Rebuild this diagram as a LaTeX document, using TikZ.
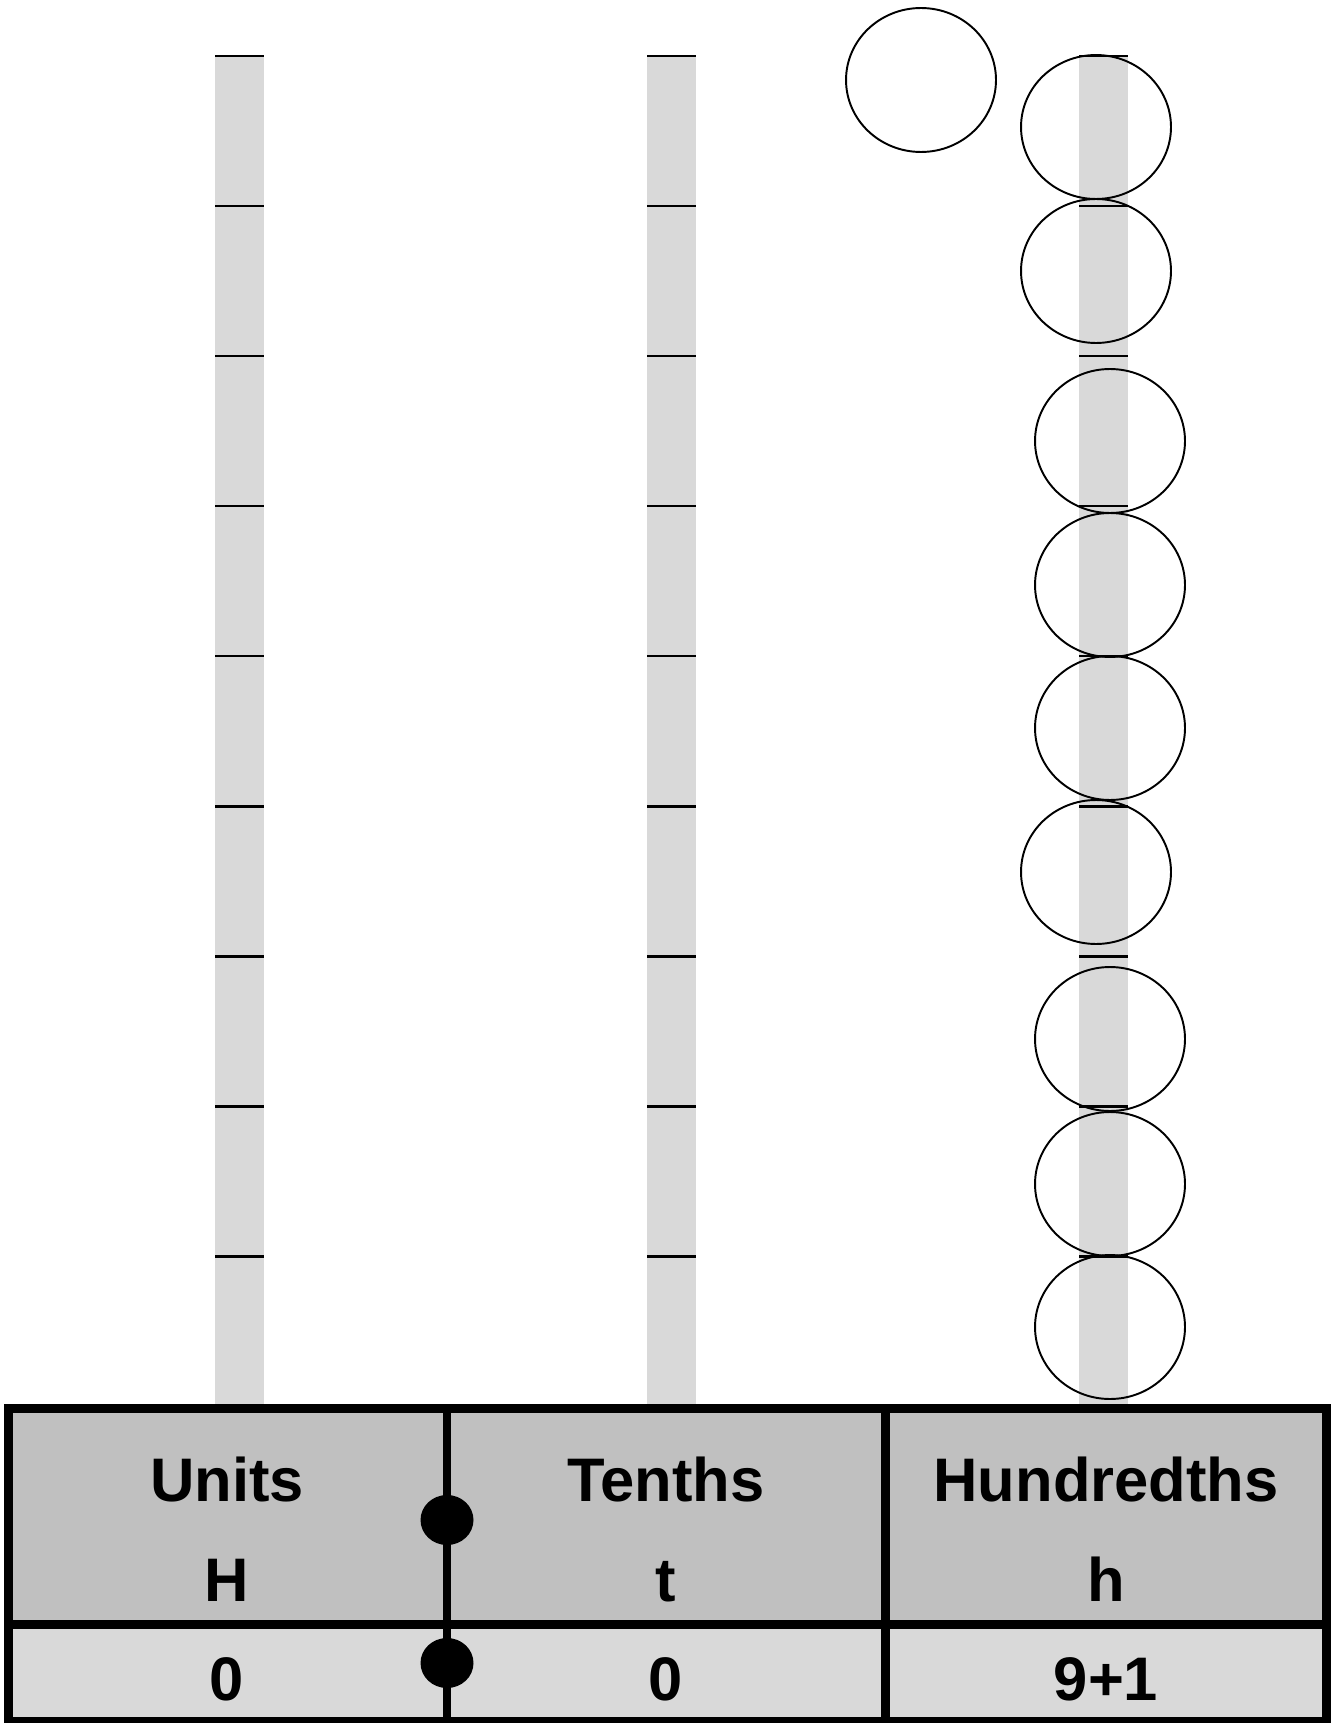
\documentclass[tikz,border=0pt]{standalone}
\usepackage{fontspec}
\setmainfont{Liberation Sans}
\usetikzlibrary{shapes.geometric}
\definecolor{rodgray}{HTML}{D9D9D9}
\definecolor{headgray}{HTML}{C0C0C0}
\tikzset{
  counter/.style={ellipse, draw, line width=1.1pt, minimum width=3cm, minimum height=2.88cm, inner sep=0pt},
  celltext/.style={anchor=base, font=\bfseries\fontsize{35}{42}\selectfont},
  dot/.style={ellipse, fill=black, minimum width=1.06cm, minimum height=1.0cm, inner sep=0pt}
}
\begin{document}
\begin{tikzpicture}[x=0.02cm, y=-0.02cm]
\useasboundingbox (0,0) rectangle (1331,1723);
%rods
\foreach \x in {215,647,1079}
\fill[rodgray] (\x,56) rectangle (\x+49,1404);
%ticks
\foreach \x in {215,647,1079}
\foreach \y in {0,...,8}
\draw[line width=1.7pt] (\x,56+150*\y) -- (\x+49,56+150*\y);
%counters
\node[counter] (spare) at (921,80) {};
\foreach \cx/\cy [count=\i] in {
	1096/127,
	1096/271,
	1110/441,
	1110/585,
	1110/728,
	1096/872,
	1110/1039,
	1110/1184,
	1110/1327
}
\node[counter] (h\i) at (\cx,\cy) {};
%table
\fill[headgray] (8,1408) rectangle (1327,1624);
\fill[rodgray] (8,1624) rectangle (1327,1721);
\draw[line width=0.18cm] (8,1624.5) -- (1327,1624.5);
\draw[line width=0.17cm] (447,1408) -- (447,1721);
\draw[line width=0.18cm] (885,1408) -- (885,1721);
\draw[line width=0.18cm] (8.5,1408.5) rectangle (1326.5,1721);
%decimal point
\node[dot] (pt1) at (447,1520) {};
\node[dot] (pt2) at (447,1663) {};
%labels
\node[celltext] (units) at (227,1501) {Units};
\node[celltext] (tenths) at (666,1501) {Tenths};
\node[celltext] (hundredths) at (1106,1501) {Hundredths};
\node[celltext] (usym) at (227,1601) {H};
\node[celltext] (tsym) at (666,1601) {t};
\node[celltext] (hsym) at (1106,1601) {h};
\node[celltext] (uval) at (227,1700) {0};
\node[celltext] (tval) at (666,1700) {0};
\node[celltext] (hval) at (1106,1700) {9+1};
\end{tikzpicture}
\end{document}
